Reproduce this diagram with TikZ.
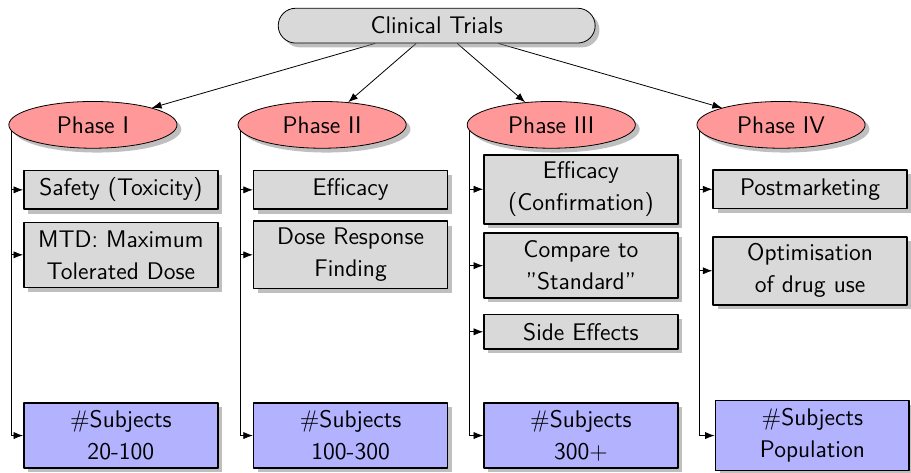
\documentclass[tikz,border=0pt]{standalone}
\usepackage{tikz}
\usetikzlibrary{arrows.meta,shapes.geometric,shapes.misc,shadows,backgrounds}

\begin{document}
\begin{tikzpicture}[>=Latex, line cap=round, line join=round,
    every node/.style={font=\sffamily\fontsize{12}{16}\selectfont},
    root/.style={rounded rectangle, draw, fill=black!15, drop shadow,
        minimum width=5.63cm, minimum height=0.61cm, inner sep=1pt},
    phase/.style={ellipse, draw, fill=red!40, drop shadow,
        minimum width=2.95cm, minimum height=0.82cm, inner sep=1pt},
    item/.style={rectangle, draw, thick, fill=black!15, drop shadow,
        minimum width=3.4cm, minimum height=0.68cm, text width=3.2cm,
        align=center, inner sep=1pt},
    twoline/.style={item, minimum height=1.14cm},
    subj/.style={twoline, fill=blue!30}]

    \useasboundingbox (0,0) rectangle (15.98,-8.28);

    % Radice
    \node[root] (ct) at (7.66,-0.45) {Clinical Trials};

    % Fasi
    \node[phase] (p1) at (1.63,-2.19) {Phase I};
    \node[phase] (p2) at (5.65,-2.19) {Phase II};
    \node[phase] (p3) at (9.67,-2.19) {Phase III};
    \node[phase] (p4) at (13.70,-2.19) {Phase IV};

    % Phase I
    \node[item] (a1) at (2.12,-3.33) {Safety (Toxicity)};
    \node[twoline] (a2) at (2.12,-4.47) {MTD: Maximum\\ Tolerated Dose};
    \node[subj] (s1) at (2.12,-7.64) {\#Subjects\\ 20-100};

    % Phase II
    \node[item] (b1) at (6.15,-3.33) {Efficacy};
    \node[twoline, minimum height=1.18cm] (b2) at (6.15,-4.47) {Dose Response\\ Finding};
    \node[subj] (s2) at (6.15,-7.64) {\#Subjects\\ 100-300};

    % Phase III
    \node[twoline, minimum height=1.21cm] (c1) at (10.19,-3.32) {Efficacy\\ (Confirmation)};
    \node[twoline] (c2) at (10.19,-4.66) {Compare to\\ ''Standard''};
    \node[item, minimum height=0.6cm] (c3) at (10.19,-5.82) {Side Effects};
    \node[subj] (s3) at (10.19,-7.64) {\#Subjects\\ 300$+$};

    % Phase IV
    \node[item] (d1) at (14.21,-3.32) {Postmarketing};
    \node[twoline, minimum height=1.19cm] (d2) at (14.21,-4.75) {Optimisation\\ of drug use};
    \node[subj, minimum height=1.23cm] (s4) at (14.25,-7.64) {\#Subjects\\ Population};

    % Frecce
    \begin{scope}[on background layer]
        \foreach \p in {p1,p2,p3,p4}
            \draw[->] (ct) -- (\p);
        \foreach \p/\b in {p1/a1,p1/a2,p1/s1,p2/b1,p2/b2,p2/s2,
                           p3/c1,p3/c2,p3/c3,p3/s3,p4/d1,p4/d2,p4/s4}
            \draw[->] ([xshift=1.5pt]\p.west) |- (\b.west);
    \end{scope}

\end{tikzpicture}
\end{document}
